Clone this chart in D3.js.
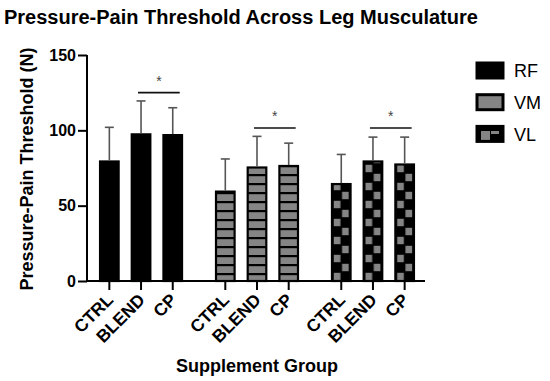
<!DOCTYPE html>
<html><head><meta charset="utf-8">
<script src="https://cdn.jsdelivr.net/npm/d3@7"></script>
<style>
html,body{margin:0;padding:0;background:#fff;}
svg{display:block;font-family:"Liberation Sans",Arial,sans-serif;}
</style></head>
<body><svg id="c" width="550" height="381"></svg>
<script>
const groups = ["RF","VM","VL"];
const supplements = ["CTRL","BLEND","CP"];
const rfMeans = [80, 98, 97.5];
const rfSD = [22, 21.5, 17.5];
const vmMeans = [60, 76, 77];
const vmSD = [21, 20, 14.5];
const vlMeans = [65, 80, 78];
const vlSD = [19, 15.5, 17.5];
const sigLevels = [125, 101.5, 101.5];
const sigLabels = ["*","*","*"];
const yTicks = [0, 50, 100, 150];
const title = "Pressure-Pain Threshold Across Leg Musculature";
const yTitle = "Pressure-Pain Threshold (N)";
const xTitle = "Supplement Group";

const means = {RF: rfMeans, VM: vmMeans, VL: vlMeans};
const sds = {RF: rfSD, VM: vmSD, VL: vlSD};

const svg = d3.select("#c");
const defs = svg.append("defs");
const GRAY = "#858585";

const y = d3.scaleLinear().domain([0,150]).range([281,55]);
const x0 = d3.scaleBand().domain(groups).range([93.5,420.5]).paddingInner(0.18).paddingOuter(0);
const x1 = d3.scaleBand().domain(supplements).range([0, x0.bandwidth()]).paddingInner(0.35).paddingOuter(0.175);

// VM pattern: gray cells with black horizontal separators
const pv = defs.append("pattern").attr("id","pVM").attr("patternUnits","userSpaceOnUse")
  .attr("width",40).attr("height",9).attr("y", y(0)+1);
pv.append("rect").attr("width",40).attr("height",9).attr("fill",GRAY);
pv.append("rect").attr("width",40).attr("height",2.2).attr("fill","#000");

const data = [];
groups.forEach((g,gi)=>supplements.forEach((s,si)=>data.push({g,s,gi,si,v:means[g][si],sd:sds[g][si]})));

// VL checker patterns, one per bar so squares align to the bar
data.filter(d=>d.g==="VL").forEach(d=>{
  const bx = x0(d.g)+x1(d.s);
  const cw = (x1.bandwidth()-4)/2;
  const p = defs.append("pattern").attr("id","pVL"+d.si).attr("patternUnits","userSpaceOnUse")
    .attr("x",bx+2).attr("y",y(0)).attr("width",cw*2).attr("height",18);
  p.append("rect").attr("width",cw*2).attr("height",18).attr("fill","#000");
  p.append("rect").attr("x",cw+0.8).attr("y",0.8).attr("width",cw-1.6).attr("height",7.4).attr("fill",GRAY);
  p.append("rect").attr("x",0.8).attr("y",9.8).attr("width",cw-1.6).attr("height",7.4).attr("fill",GRAY);
});
// legend VL pattern
const pl = defs.append("pattern").attr("id","pVLleg").attr("patternUnits","userSpaceOnUse")
  .attr("x",478).attr("y",128).attr("width",24).attr("height",24);
pl.append("rect").attr("width",24).attr("height",24).attr("fill","#000");
pl.append("rect").attr("x",3).attr("y",3).attr("width",9).attr("height",9).attr("fill",GRAY);
pl.append("rect").attr("x",13).attr("y",3).attr("width",8).attr("height",3).attr("fill",GRAY);

function fillFor(d){ return d.g==="RF" ? "#000" : d.g==="VM" ? "url(#pVM)" : "url(#pVL"+d.si+")"; }

// bars
svg.append("g").selectAll("rect").data(data).join("rect")
  .attr("x",d=>x0(d.g)+x1(d.s)+1)
  .attr("y",d=>y(d.v)+1)
  .attr("width",x1.bandwidth()-2)
  .attr("height",d=>y(0)-y(d.v)-1)
  .attr("fill",fillFor)
  .attr("stroke","#000").attr("stroke-width",2.2);

// error bars (upper only)
const eb = svg.append("g").attr("stroke","#555").attr("stroke-width",1.6);
data.forEach(d=>{
  const cx = x0(d.g)+x1(d.s)+x1.bandwidth()/2;
  eb.append("line").attr("x1",cx).attr("x2",cx).attr("y1",y(d.v)).attr("y2",y(d.v+d.sd));
  eb.append("line").attr("x1",cx-4.5).attr("x2",cx+4.5).attr("y1",y(d.v+d.sd)).attr("y2",y(d.v+d.sd));
});

// significance lines
groups.forEach((g,gi)=>{
  const xa = x0(g)+x1("BLEND")+x1.bandwidth()/2-3;
  const xb = x0(g)+x1("CP")+x1.bandwidth()/2+7;
  svg.append("line").attr("x1",xa).attr("x2",xb).attr("y1",y(sigLevels[gi])).attr("y2",y(sigLevels[gi]))
    .attr("stroke","#111").attr("stroke-width",1.6);
  svg.append("text").attr("x",(xa+xb)/2).attr("y",y(sigLevels[gi])-7)
    .attr("text-anchor","middle").attr("font-size",14).attr("fill","#444").text(sigLabels[gi]);
});

// y axis
const ya = svg.append("g").attr("transform","translate(87,0)")
  .call(d3.axisLeft(y).tickValues(yTicks).tickSize(9).tickPadding(2));
ya.select(".domain").attr("stroke-width",2).attr("d","M-0,55V281");
ya.selectAll(".tick line").attr("stroke-width",2);
ya.selectAll("text").attr("font-size",16).attr("font-weight","bold").attr("fill","#000")
  .attr("font-family","Liberation Sans, Arial, sans-serif");

// x axis
const xaG = svg.append("g").attr("transform","translate(0,281)");
xaG.append("line").attr("x1",86).attr("x2",425).attr("stroke","#000").attr("stroke-width",2);
data.forEach(d=>{
  const cx = x0(d.g)+x1(d.s)+x1.bandwidth()/2;
  xaG.append("line").attr("x1",cx).attr("x2",cx).attr("y1",0).attr("y2",9).attr("stroke","#000").attr("stroke-width",2);
  xaG.append("text").attr("transform",`translate(${cx+5},${20}) rotate(-45)`)
    .attr("text-anchor","end").attr("font-size",17.5).attr("font-weight","bold").attr("fill","#000")
    .text(d.s);
});

// titles
svg.append("text").attr("x",4).attr("y",24).attr("font-size",20).attr("font-weight","bold").text(title);
svg.append("text").attr("transform","translate(33,169) rotate(-90)").attr("text-anchor","middle")
  .attr("font-size",18).attr("font-weight","bold").text(yTitle);
svg.append("text").attr("x",257).attr("y",372).attr("text-anchor","middle")
  .attr("font-size",18).attr("font-weight","bold").text(xTitle);

// legend
const legFills = {RF:"#000", VM:GRAY, VL:"url(#pVLleg)"};
groups.forEach((g,i)=>{
  const ly = 63 + i*31.7;
  svg.append("rect").attr("x",477).attr("y",ly).attr("width",26).attr("height",15)
    .attr("fill",legFills[g]).attr("stroke","#000").attr("stroke-width",3);
  svg.append("text").attr("x",514).attr("y",ly+14.3).attr("font-size",18).text(g);
});
</script></body></html>
